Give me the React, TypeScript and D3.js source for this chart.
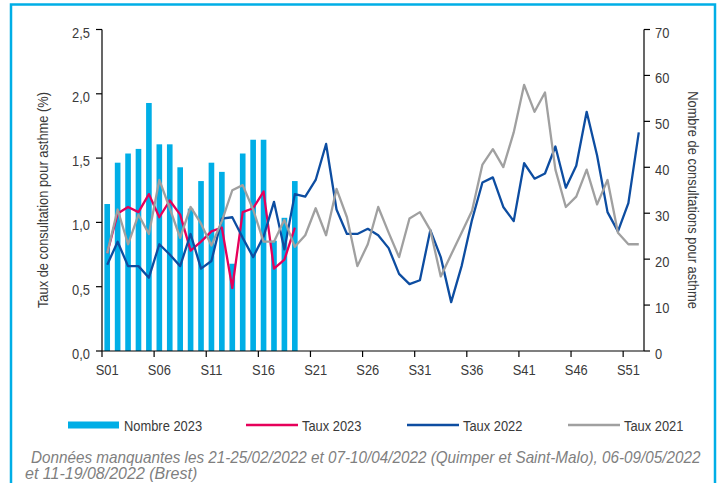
import * as d3 from "d3";

const weeks = d3.range(1, 53).map((n) => "S" + String(n).padStart(2, "0"));

const nombre2023 = [32, 41, 43, 44, 54, 45, 45, 40, 31, 37, 41, 39, 19, 43, 46, 46, 24, 29, 37];

const taux2023 = [0.76, 1.07, 1.12, 1.08, 1.22, 1.04, 1.17, 1.06, 0.78, 0.85, 0.93, 0.96, 0.49, 1.08, 1.11, 1.24, 0.64, 0.71, 0.96];

const taux2022 = [
  0.67, 0.85, 0.66, 0.66, 0.57, 0.83, 0.75, 0.66, 0.91, 0.64, 0.7, 1.03, 1.04, 0.88, 0.73, 0.89, 1.16, 0.79, 1.22, 1.2,
  1.33, 1.61, 1.1, 0.91, 0.91, 0.95, 0.9, 0.8, 0.6, 0.52, 0.55, 0.94, 0.73, 0.38, 0.66, 1.02, 1.31, 1.35, 1.12, 1.01,
  1.46, 1.34, 1.38, 1.59, 1.27, 1.44, 1.86, 1.52, 1.08, 0.93, 1.15, 1.7,
];

const taux2021 = [
  0.76, 1.1, 0.83, 1.06, 0.91, 1.33, 1.11, 0.88, 1.12, 0.99, 0.82, 1.01, 1.25, 1.29, 1.1, 0.85, 0.85, 1.02, 0.81, 0.9,
  1.11, 0.9, 1.26, 1.04, 0.66, 0.83, 1.12, 0.92, 0.73, 1.03, 1.08, 0.94, 0.58, 0.75, 0.92, 1.09, 1.45, 1.57, 1.43, 1.7,
  2.07, 1.86, 2.01, 1.41, 1.12, 1.2, 1.41, 1.14, 1.33, 0.92, 0.83, 0.83,
];

const leftTicks = [0, 0.5, 1, 1.5, 2, 2.5];
const rightTicks = [0, 10, 20, 30, 40, 50, 60, 70];

const legendItems = [
  { label: "Nombre 2023", color: "#00AEE6", bar: true, x: 68 },
  { label: "Taux 2023", color: "#E6005A", bar: false, x: 246 },
  { label: "Taux 2022", color: "#0D4DA1", bar: false, x: 407 },
  { label: "Taux 2021", color: "#A0A0A0", bar: false, x: 568 },
];

const footnote1 = "Données manquantes les 21-25/02/2022 et 07-10/04/2022 (Quimper et Saint-Malo), 06-09/05/2022";
const footnote2 = "et 11-19/08/2022 (Brest)";

const font = "'Liberation Sans', Arial, sans-serif";
const textColor = "#3a3a3a";

const fr = d3.formatLocale({ decimal: ",", thousands: " ", grouping: [3], currency: ["", "€"] });
const fmt1 = fr.format(".1f");

// narrow text, like Arial Narrow
const NText = ({ x, y, anchor = "start", rotate = 0, children }: any) => (
  <text
    transform={`translate(${x},${y}) rotate(${rotate}) scale(0.86,1)`}
    textAnchor={anchor}
    fontFamily={font}
    fontSize={15}
    fill={textColor}
  >
    {children}
  </text>
);

const App = () => {
  const width = 724;
  const height = 483;
  const left = 102;
  const right = 644;
  const top = 29.5;
  const bottom = 351;

  const x = d3.scaleBand<string>().domain(weeks).range([left, right]);
  const bw = x.bandwidth();
  const yL = d3.scaleLinear().domain([0, 2.5]).range([bottom, top]);
  const yR = d3.scaleLinear().domain([0, 70]).range([bottom, top]);
  const cx = (i: number) => (x(weeks[i]) as number) + bw / 2;

  const line = d3
    .line<number>()
    .x((_, i) => cx(i))
    .y((d) => yL(d));

  const barW = bw * 0.54;
  const legendY = 425;

  return (
    <svg width={width} height={height} style={{ position: "absolute", left: 0, top: 0, background: "#fff" }}>
      <rect x={11} y={4.5} width={704} height={500} fill="#fff" stroke="#00AEE6" strokeWidth={2.5} />

      {nombre2023.map((v, i) => (
        <rect key={i} x={cx(i) - barW / 2} y={yR(v)} width={barW} height={bottom - yR(v)} fill="#00AEE6" />
      ))}

      <path d={line(taux2023) || ""} fill="none" stroke="#E6005A" strokeWidth={2.3} strokeLinejoin="round" />
      <path d={line(taux2022) || ""} fill="none" stroke="#0D4DA1" strokeWidth={2.3} strokeLinejoin="round" />
      <path d={line(taux2021) || ""} fill="none" stroke="#A0A0A0" strokeWidth={2.3} strokeLinejoin="round" />

      {/* left axis */}
      <line x1={left} x2={left} y1={top} y2={bottom} stroke="#000" strokeWidth={1.2} />
      {leftTicks.map((t) => (
        <g key={t}>
          <line x1={left - 6} x2={left} y1={yL(t)} y2={yL(t)} stroke="#000" strokeWidth={1.2} />
          <NText x={left - 12} y={yL(t) + 8} anchor="end">
            {fmt1(t)}
          </NText>
        </g>
      ))}

      {/* right axis */}
      <line x1={right} x2={right} y1={top} y2={bottom} stroke="#000" strokeWidth={1.2} />
      {rightTicks.map((t) => (
        <g key={t}>
          <line x1={right} x2={right + 6} y1={yR(t)} y2={yR(t)} stroke="#000" strokeWidth={1.2} />
          <NText x={right + 11} y={yR(t) + 8}>
            {t}
          </NText>
        </g>
      ))}

      {/* x axis */}
      <line x1={left} x2={right} y1={bottom} y2={bottom} stroke="#000" strokeWidth={1.2} />
      {weeks.map((w, i) =>
        i % 5 === 0 ? (
          <g key={w}>
            <line x1={x(w)} x2={x(w)} y1={bottom} y2={bottom + 6} stroke="#000" strokeWidth={1.2} />
            <NText x={cx(i)} y={bottom + 24} anchor="middle">
              {w}
            </NText>
          </g>
        ) : null
      )}

      <NText x={48} y={200} anchor="middle" rotate={-90}>
        Taux de consultation pour asthme (%)
      </NText>
      <NText x={688} y={200} anchor="middle" rotate={90}>
        Nombre de consultations pour asthme
      </NText>

      {legendItems.map((it) => (
        <g key={it.label}>
          {it.bar ? (
            <rect x={it.x} y={legendY - 3.5} width={51} height={7} fill={it.color} />
          ) : (
            <line x1={it.x} x2={it.x + 52} y1={legendY} y2={legendY} stroke={it.color} strokeWidth={2.5} />
          )}
          <NText x={it.x + 56} y={legendY + 5.5}>
            {it.label}
          </NText>
        </g>
      ))}

      <text
        transform="translate(31,463) scale(0.955,1)"
        fontFamily={font}
        fontStyle="italic"
        fontSize={16}
        fill="#7F7F7F"
      >
        {footnote1}
      </text>
      <text x={25} y={479} fontFamily={font} fontStyle="italic" fontSize={16} fill="#7F7F7F">
        {footnote2}
      </text>
    </svg>
  );
};

export default App;
